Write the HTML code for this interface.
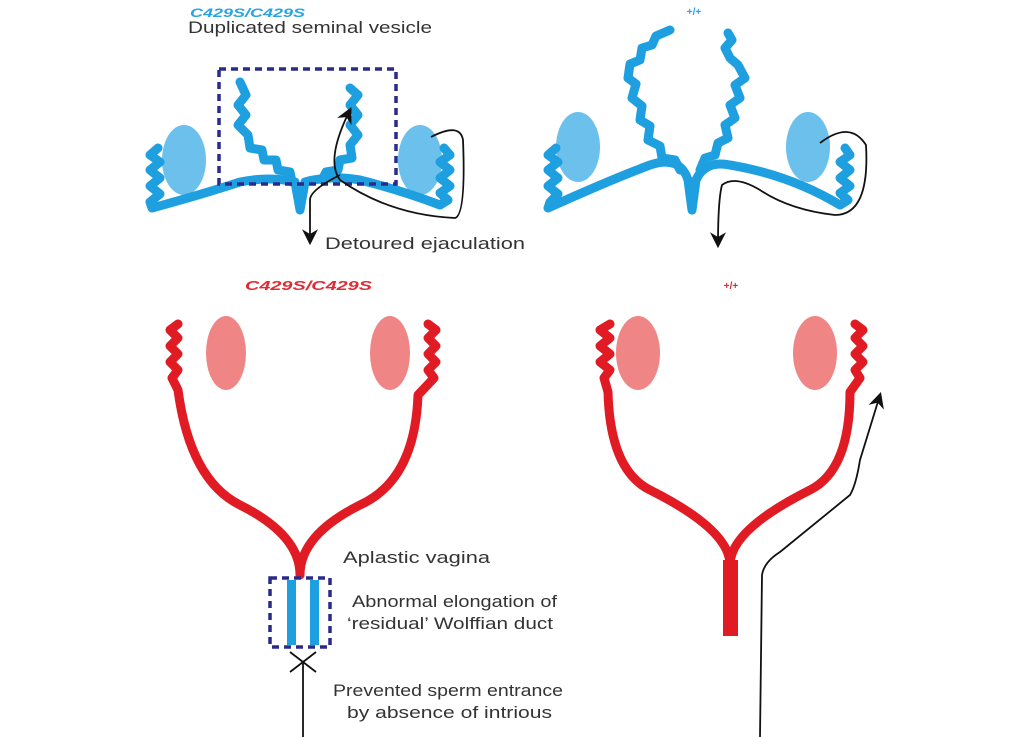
<!DOCTYPE html>
<html><head><meta charset="utf-8"><style>
html,body{margin:0;padding:0;background:#fff;}
svg{display:block;font-family:"Liberation Sans",sans-serif;}
</style></head><body>
<svg width="1024" height="737" viewBox="0 0 1024 737">
<defs>
<marker id="ah" viewBox="0 0 10 10" refX="8" refY="5" markerWidth="9" markerHeight="9" markerUnits="userSpaceOnUse" orient="auto"><path d="M0,0 L10,5 L0,10 L3,5 z" fill="#111"/></marker>
<marker id="ahb" viewBox="0 0 10 10" refX="8" refY="5" markerWidth="16" markerHeight="16" markerUnits="userSpaceOnUse" orient="auto"><path d="M0,0 L10,5 L0,10 L3,5 z" fill="#111"/></marker>
</defs>
<!-- TOP LEFT -->
<text x="190" y="17" fill="#2aa3e2" font-size="12" font-weight="bold" font-style="italic" textLength="115" lengthAdjust="spacingAndGlyphs">C429S/C429S</text>
<text x="188" y="33" fill="#333" font-size="17" textLength="244" lengthAdjust="spacingAndGlyphs">Duplicated seminal vesicle</text>
<ellipse cx="184" cy="160" rx="22" ry="35" fill="#6cc0ec"/>
<ellipse cx="420" cy="160" rx="22" ry="35" fill="#6cc0ec"/>
<g fill="none" stroke="#1e9fe0" stroke-width="9" stroke-linejoin="round" stroke-linecap="round">
<path d="M158,148 L150,155 L160,162 L150,170 L160,178 L150,186 L160,194 L150,202 L152,208 Q200,195 240,182 Q270,176 295,182 L300,210 L305,182 Q330,175 360,180 Q400,190 440,205 L448,200 L440,193 L450,186 L440,178 L450,170 L440,162 L450,155 L444,148"/>
<path d="M240,82 L246,95 L238,105 L246,115 L238,125 L248,135 L250,148 L262,150 L264,160 L276,160 L278,170 L290,172 L292,182"/>
<path d="M350,88 L358,95 L350,105 L358,115 L350,125 L358,135 L350,145 L352,158 L340,160 L338,170 L326,172 L322,180"/>
</g>
<rect x="219" y="69" width="177" height="115" fill="none" stroke="#2a2a8a" stroke-width="3.5" stroke-dasharray="7,5"/>
<g fill="none" stroke="#111" stroke-width="1.8">
<path d="M431,137 Q460,122 463,140 Q466,215 455,218 Q390,215 340,180 Q325,160 350,110" marker-end="url(#ahb)"/>
<path d="M340,175 Q310,190 310,200 L310,242" marker-end="url(#ahb)"/>
</g>
<text x="325" y="249" fill="#333" font-size="17" textLength="200" lengthAdjust="spacingAndGlyphs">Detoured ejaculation</text>
<!-- TOP RIGHT -->
<text x="694" y="15" fill="#2aa3e2" font-size="10" font-weight="bold" text-anchor="middle">+/+</text>
<ellipse cx="578" cy="147" rx="22" ry="35" fill="#6cc0ec"/>
<ellipse cx="808" cy="147" rx="22" ry="35" fill="#6cc0ec"/>
<g fill="none" stroke="#1e9fe0" stroke-width="9" stroke-linejoin="round" stroke-linecap="round">
<path d="M556,148 L548,155 L558,162 L548,170 L558,178 L548,186 L558,194 L550,202 L548,208 Q610,180 650,165 Q680,155 688,180 L692,210 L696,180 Q705,160 730,165 Q790,175 840,205 L848,200 L840,193 L850,186 L840,178 L850,170 L840,162 L850,155 L845,148"/>
<path d="M680,170 L675,160 L662,158 L660,146 L648,140 L650,126 L640,120 L642,106 L632,98 L636,84 L628,78 L630,64 L640,60 L642,48 L652,45 L656,36 L670,30"/>
<path d="M700,170 L705,158 L715,155 L718,143 L728,138 L725,125 L735,118 L730,105 L740,98 L735,85 L745,78 L738,65 L730,58 L725,48 L732,40 L728,33"/>
</g>
<g fill="none" stroke="#111" stroke-width="1.8">
<path d="M820,143 Q850,120 866,145 Q870,215 835,215 Q790,210 760,190 Q735,175 722,185 Q718,200 718,245" marker-end="url(#ahb)"/>
</g>
<!-- BOTTOM LEFT -->
<text x="245" y="290" fill="#e02b33" font-size="13" font-weight="bold" font-style="italic" textLength="127" lengthAdjust="spacingAndGlyphs">C429S/C429S</text>
<ellipse cx="226" cy="353" rx="20" ry="37" fill="#ef8585"/>
<ellipse cx="390" cy="353" rx="20" ry="37" fill="#ef8585"/>
<g fill="none" stroke="#e01b24" stroke-width="9" stroke-linejoin="round" stroke-linecap="round">
<path d="M178,324 L170,330 L178,338 L170,346 L178,354 L170,362 L178,370 L172,378 L178,390 Q190,480 240,505 Q300,535 300,575"/>
<path d="M428,324 L436,330 L428,338 L436,346 L428,354 L436,362 L428,370 L434,378 L418,395 Q415,480 360,505 Q300,535 300,575"/>
</g>
<rect x="287" y="580" width="9" height="65" fill="#1e9fe0"/>
<rect x="310" y="580" width="9" height="65" fill="#1e9fe0"/>
<rect x="270" y="578" width="60" height="69" fill="none" stroke="#2a2a8a" stroke-width="3.5" stroke-dasharray="7,5"/>
<g stroke="#111" stroke-width="1.8" fill="none">
<path d="M290,652 L316,672 M316,652 L290,672"/>
<path d="M303,737 L303,663"/>
</g>
<g fill="#333" font-size="17">
<text x="343" y="563" textLength="147" lengthAdjust="spacingAndGlyphs">Aplastic vagina</text>
<text x="352" y="607" textLength="205" lengthAdjust="spacingAndGlyphs">Abnormal elongation of</text>
<text x="347" y="629" textLength="206" lengthAdjust="spacingAndGlyphs">‘residual’ Wolffian duct</text>
<text x="333" y="696" textLength="230" lengthAdjust="spacingAndGlyphs">Prevented sperm entrance</text>
<text x="347" y="718" textLength="205" lengthAdjust="spacingAndGlyphs">by absence of intrious</text>
</g>
<!-- BOTTOM RIGHT -->
<text x="731" y="289" fill="#e02b33" font-size="10" font-weight="bold" text-anchor="middle">+/+</text>
<ellipse cx="638" cy="353" rx="22" ry="37" fill="#ef8585"/>
<ellipse cx="815" cy="353" rx="22" ry="37" fill="#ef8585"/>
<g fill="none" stroke="#e01b24" stroke-width="9" stroke-linejoin="round" stroke-linecap="round">
<path d="M610,324 L600,330 L610,338 L600,346 L610,354 L600,362 L610,370 L604,378 L608,392 Q610,470 650,490 Q730,530 730,565"/>
<path d="M855,324 L863,330 L855,338 L863,346 L855,354 L863,362 L855,370 L860,378 L850,392 Q850,470 810,490 Q730,530 730,565"/>
</g>
<rect x="723" y="560" width="15" height="76" fill="#e01b24"/>
<path d="M760,737 L762,575 Q764,562 780,552 L850,495 Q856,485 860,460 L880,395" fill="none" stroke="#111" stroke-width="1.8" marker-end="url(#ahb)"/>
</svg>
</body></html>
